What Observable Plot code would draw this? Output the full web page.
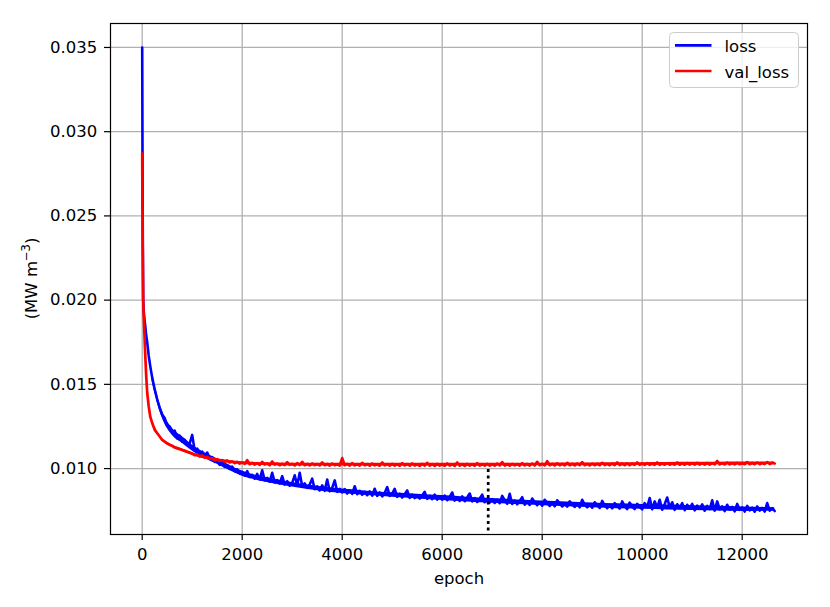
<!DOCTYPE html>
<html><head><meta charset="utf-8">
<script src="https://cdn.jsdelivr.net/npm/d3@7"></script>
<script src="https://cdn.jsdelivr.net/npm/@observablehq/plot@0.6"></script>
<style>body{margin:0;background:#fff}#chart svg{display:block}</style>
</head><body><div id="chart"></div><script>
// ---- data ----
const earlyEpochs = [0,5,10,20,30,40,60,80,100,130,160,200,250,300,350,400,450,500,550,600,650,700,750,800,850,900,950];
const earlyLoss = [0.0350,0.0300,0.0250,0.0200,0.0194,0.0190,0.0185,0.0179,0.0175,0.0167,0.0161,0.0154,0.0147,0.0141,0.0136,0.0132,0.01300,0.01255,0.01250,0.01215,0.01225,0.01180,0.01195,0.01160,0.01170,0.01140,0.01150];
const earlyValLoss = [0.0287,0.0255,0.0232,0.0200,0.0191,0.0183,0.0168,0.0155,0.0145,0.0137,0.0131,0.0127,0.0123,0.0121,0.0119,0.0117,0.0116,0.01150,0.01140,0.01135,0.01125,0.01120,0.01115,0.01110,0.01105,0.01100,0.01095];
const tailStart = 1000, tailStep = 50;
const lossTail = [
0.01200,0.01105,0.01118,0.01090,0.01100,0.01072,0.01095,0.01058,0.01068,0.01040,
0.01048,0.01022,0.01040,0.01010,0.01020,0.00998,0.01012,0.00985,0.00995,0.00972,
0.00980,0.00958,0.00985,0.00950,0.00962,0.00940,0.00968,0.00935,0.00990,0.00930,
0.00945,0.00922,0.00975,0.00918,0.00932,0.00912,0.00955,0.00905,0.00925,0.00898,
0.00915,0.00960,0.00900,0.00975,0.00895,0.00912,0.00885,0.00905,0.00940,0.00878,
0.00895,0.00870,0.00900,0.00868,0.00935,0.00865,0.00885,0.00930,0.00862,0.00880,
0.00858,0.00878,0.00852,0.00870,0.00850,0.00895,0.00848,0.00868,0.00845,0.00862,
0.00842,0.00865,0.00840,0.00880,0.00838,0.00858,0.00835,0.00855,0.00890,0.00838,
0.00852,0.00880,0.00832,0.00850,0.00828,0.00848,0.00870,0.00826,0.00845,0.00825,
0.00842,0.00822,0.00840,0.00862,0.00820,0.00838,0.00818,0.00845,0.00816,0.00835,
0.00815,0.00840,0.00812,0.00832,0.00858,0.00810,0.00830,0.00808,0.00835,0.00806,
0.00828,0.00852,0.00805,0.00825,0.00802,0.00822,0.00845,0.00800,0.00820,0.00798,
0.00818,0.00796,0.00815,0.00795,0.00838,0.00812,0.00792,0.00850,0.00790,0.00810,
0.00788,0.00808,0.00830,0.00786,0.00805,0.00784,0.00822,0.00802,0.00782,0.00800,
0.00780,0.00815,0.00798,0.00778,0.00795,0.00776,0.00812,0.00792,0.00775,0.00790,
0.00774,0.00805,0.00788,0.00772,0.00790,0.00770,0.00815,0.00786,0.00770,0.00785,
0.00768,0.00800,0.00784,0.00766,0.00808,0.00782,0.00765,0.00780,0.00764,0.00795,
0.00778,0.00762,0.00805,0.00776,0.00760,0.00798,0.00775,0.00760,0.00790,0.00772,
0.00758,0.00795,0.00772,0.00825,0.00758,0.00805,0.00770,0.00815,0.00756,0.00790,
0.00828,0.00768,0.00800,0.00755,0.00788,0.00766,0.00795,0.00753,0.00785,0.00765,
0.00790,0.00752,0.00780,0.00762,0.00788,0.00750,0.00778,0.00760,0.00812,0.00750,
0.00805,0.00758,0.00775,0.00748,0.00785,0.00756,0.00772,0.00746,0.00790,0.00755,
0.00770,0.00745,0.00778,0.00752,0.00768,0.00744,0.00775,0.00750,0.00766,0.00745,0.00795,0.00750,0.00765,0.00748];
const valLossTail = [
0.01090,0.01080,0.01084,0.01072,0.01078,0.01065,0.01070,0.01058,0.01062,0.01050,
0.01056,0.01046,0.01050,0.01040,0.01048,0.01036,0.01042,0.01032,0.01040,0.01030,
0.01036,0.01028,0.01050,0.01026,0.01034,0.01024,0.01032,0.01022,0.01040,0.01024,
0.01030,0.01020,0.01042,0.01024,0.01030,0.01020,0.01028,0.01021,0.01038,0.01022,
0.01028,0.01019,0.01032,0.01021,0.01040,0.01020,0.01028,0.01019,0.01030,0.01021,
0.01027,0.01019,0.01036,0.01020,0.01027,0.01018,0.01030,0.01020,0.01026,0.01018,
0.01062,0.01020,0.01028,0.01018,0.01032,0.01019,0.01026,0.01018,0.01034,0.01020,
0.01026,0.01017,0.01030,0.01019,0.01025,0.01017,0.01036,0.01019,0.01026,0.01017,
0.01028,0.01018,0.01025,0.01017,0.01032,0.01019,0.01026,0.01017,0.01030,0.01018,
0.01025,0.01016,0.01028,0.01018,0.01034,0.01017,0.01026,0.01016,0.01028,0.01018,
0.01025,0.01016,0.01030,0.01018,0.01025,0.01016,0.01036,0.01018,0.01026,0.01016,
0.01028,0.01018,0.01025,0.01017,0.01032,0.01018,0.01026,0.01017,0.01028,0.01018,
0.01026,0.01017,0.01030,0.01019,0.01038,0.01018,0.01027,0.01018,0.01028,0.01019,
0.01026,0.01018,0.01032,0.01019,0.01027,0.01018,0.01030,0.01019,0.01040,0.01020,
0.01028,0.01019,0.01044,0.01020,0.01028,0.01019,0.01031,0.01020,0.01028,0.01019,
0.01034,0.01020,0.01028,0.01019,0.01030,0.01020,0.01038,0.01020,0.01028,0.01019,
0.01030,0.01020,0.01028,0.01020,0.01034,0.01021,0.01028,0.01020,0.01030,0.01021,
0.01036,0.01021,0.01029,0.01021,0.01031,0.01021,0.01029,0.01022,0.01036,0.01022,
0.01030,0.01022,0.01032,0.01022,0.01029,0.01022,0.01036,0.01022,0.01030,0.01023,
0.01032,0.01023,0.01030,0.01023,0.01036,0.01023,0.01031,0.01023,0.01033,0.01024,
0.01031,0.01024,0.01034,0.01024,0.01031,0.01024,0.01033,0.01024,0.01031,0.01025,
0.01045,0.01025,0.01032,0.01025,0.01036,0.01025,0.01032,0.01025,0.01034,0.01026,
0.01032,0.01026,0.01038,0.01026,0.01033,0.01026,0.01035,0.01026,0.01033,0.01027,0.01038,0.01027,0.01034,0.01030];
// dense noise band (lower / upper edge of the fuzz)
const bandEpochs = [200,400,600,800,1000,1500,2000,2500,3000,3500,4000,4500,5000,5500,6000,6500,7000,7500,8000,8500,9000,9500,10000,10500,11000,11500,12000,12650];
const lossBandLo = [0.01515,0.01300,0.01198,0.01150,0.01105,0.01025,0.00955,0.00918,0.00890,0.00868,0.00852,0.00840,0.00830,0.00820,0.00811,0.00802,0.00794,0.00786,0.00779,0.00773,0.00767,0.00762,0.00758,0.00754,0.00751,0.00748,0.00745,0.00747];
const lossBandHi = [0.01565,0.01345,0.01240,0.01190,0.01140,0.01058,0.00985,0.00945,0.00918,0.00895,0.00878,0.00866,0.00856,0.00848,0.00840,0.00830,0.00822,0.00814,0.00808,0.00802,0.00796,0.00791,0.00787,0.00783,0.00780,0.00776,0.00772,0.00768];
const valBandLo = [0.01262,0.01163,0.01126,0.01102,0.01078,0.01042,0.01024,0.01018,0.01016,0.01016,0.01016,0.01016,0.01016,0.01016,0.01016,0.01016,0.01016,0.01016,0.01017,0.01017,0.01017,0.01018,0.01019,0.01020,0.01021,0.01022,0.01023,0.01025];
const valBandHi = [0.01280,0.01180,0.01142,0.01118,0.01094,0.01058,0.01040,0.01034,0.01032,0.01032,0.01032,0.01031,0.01031,0.01031,0.01031,0.01031,0.01032,0.01032,0.01032,0.01033,0.01033,0.01034,0.01035,0.01036,0.01037,0.01038,0.01039,0.01039];
const stopEpoch = 6920;
const stopTop = 0.00995;
const xTicks = [0,2000,4000,6000,8000,10000,12000];
const yTicks = [0.010,0.015,0.020,0.025,0.030,0.035];
const seriesNames = ["loss","val_loss"];
const seriesColors = ["#0000ff","#ff0000"];

// ---- build tables ----
function buildSeries(early, tail){
  const rows = early.map((v,i)=>({epoch: earlyEpochs[i], value: v}));
  tail.forEach((v,i)=>rows.push({epoch: tailStart + i*tailStep, value: v}));
  return rows;
}
const lossRows = buildSeries(earlyLoss, lossTail);
const valRows = buildSeries(earlyValLoss, valLossTail);
const lossBand = bandEpochs.map((e,i)=>({epoch:e, lo:lossBandLo[i], hi:lossBandHi[i]}));
const valBand = bandEpochs.map((e,i)=>({epoch:e, lo:valBandLo[i], hi:valBandHi[i]}));

const W = 830, H = 607, mL = 110, mR = 23, mT = 23, mB = 73;
const yDomain = [0.006086, 0.036423];
const FONT = "16.5px";

const plot = Plot.plot({
  width: W, height: H,
  marginLeft: mL, marginRight: mR, marginTop: mT, marginBottom: mB,
  x: {domain: [-634, 13306]},
  y: {domain: yDomain},
  style: {fontFamily: "DejaVu Sans", fontSize: FONT, color: "black", background: "white", overflow: "visible"},
  marks: [
    Plot.ruleX(xTicks, {stroke: "#b0b0b0", strokeWidth: 1.3}),
    Plot.ruleY(yTicks, {stroke: "#b0b0b0", strokeWidth: 1.3}),
    Plot.areaY(lossBand, {x: "epoch", y1: "lo", y2: "hi", fill: seriesColors[0], curve: "monotone-x"}),
    Plot.line(lossRows, {x: "epoch", y: "value", stroke: seriesColors[0], strokeWidth: 2.6, strokeLinejoin: "round"}),
    Plot.areaY(valBand, {x: "epoch", y1: "lo", y2: "hi", fill: seriesColors[1], curve: "monotone-x"}),
    Plot.line(valRows, {x: "epoch", y: "value", stroke: seriesColors[1], strokeWidth: 2.7, strokeLinejoin: "round"}),
    Plot.ruleX([stopEpoch], {y1: stopTop, y2: yDomain[0], stroke: "black", strokeWidth: 2.7, strokeDasharray: "3,3.5"}),
    Plot.frame({stroke: "black", strokeWidth: 1.2}),
    Plot.axisX(xTicks, {tickSize: 6, tickPadding: 7.7, tickFormat: d3.format("d"), label: null, strokeWidth: 1.2}),
    Plot.axisY(yTicks, {tickSize: 6, tickPadding: 7.3, tickFormat: d3.format(".3f"), label: null, strokeWidth: 1.2}),
    Plot.text(["epoch"], {frameAnchor: "bottom", dy: 44, lineAnchor: "middle", text: d => d, fill: "black"})
  ]
});
document.getElementById("chart").appendChild(plot);

const svg = d3.select(plot);
// y label with superscript
const yl = svg.append("text")
  .attr("transform", `translate(36.5,${(mT + H - mB)/2}) rotate(-90)`)
  .attr("text-anchor", "middle")
  .attr("font-family", "DejaVu Sans").attr("font-size", FONT).attr("fill", "black");
yl.append("tspan").text("(MW m");
yl.append("tspan").attr("font-size", "11.5px").attr("dy", "-7").text("\u22123");
yl.append("tspan").attr("dy", "7").text(")");

// legend
const lg = svg.append("g").attr("transform", `translate(${W - mR - 138},${mT + 9})`);
lg.append("rect").attr("x", 0.5).attr("y", 0.5).attr("width", 129).attr("height", 55).attr("rx", 4)
  .attr("fill", "white").attr("fill-opacity", 0.8).attr("stroke", "#cccccc").attr("stroke-width", 1);
seriesNames.forEach((name, i) => {
  const cy = 13.3 + i * 25.7;
  lg.append("line").attr("x1", 6).attr("x2", 42.5).attr("y1", cy).attr("y2", cy)
    .attr("stroke", seriesColors[i]).attr("stroke-width", 2.7);
  lg.append("text").attr("x", 55.5).attr("y", cy + 6.5).attr("text-anchor", "start")
    .attr("font-family", "DejaVu Sans").attr("font-size", FONT).attr("fill", "black").text(name);
});
</script></body></html>
